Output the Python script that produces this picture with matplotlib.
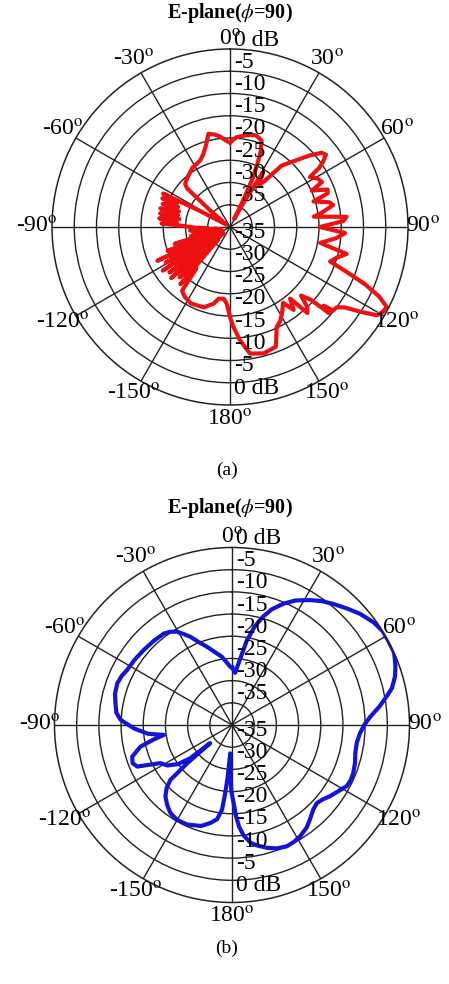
import numpy as np
import matplotlib.pyplot as plt
from matplotlib.transforms import offset_copy

plt.rcParams['font.family'] = ['Liberation Serif', 'DejaVu Serif']
plt.rcParams['mathtext.fontset'] = 'stix'

# angles in degrees, clockwise from the top; gain in dB
red_deg = [0, 4, 8, 12, 16, 20, 22, 23.5, 25, 26.5, 27.5, 29, 31, 33, 35, 37, 40, 44, 48, 51,
           53, 55, 56.5, 58, 61, 64, 66, 69, 71, 73, 76, 78, 81, 83, 85, 87, 90, 93, 96, 100,
           103, 106, 109, 111, 113, 115, 117, 119, 121, 123, 125, 127, 129, 130, 131, 132, 134,
           136, 138, 140, 142.5, 145, 149, 152, 155, 159, 165, 171, 175, 178, 180, 182.5, 185,
           189, 192, 198, 207, 213, 217, 219, 221, 223, 225, 227, 229, 231, 233, 235, 237, 239,
           241, 243, 245, 247, 249, 251, 253, 255, 257, 259, 261, 263, 265, 267, 269, 271, 273,
           275, 277, 279, 281, 283, 285, 287, 289, 291, 293, 295, 296.6, 298, 300, 303, 307, 310,
           312, 314, 318, 327, 336, 340, 343, 347, 351, 354, 357, 360]
red_db = [-21, -19.8, -19.3, -18.8, -18.6, -19.3, -21.5, -24.5, -28, -34, -38, -34, -25.6, -27.5,
          -28.5, -27, -22, -19.5, -16, -13.5, -13, -14.5, -16, -18.8, -17.5, -17, -19.9, -16.5,
          -16.8, -20.4, -17, -16.3, -19, -21, -13.7, -14.5, -19.8, -14.1, -16, -19.4, -13.1, -15,
          -16.2, -12, -7, -3, -0.5, -0.7, -1.5, -5, -8.5, -10, -10.2, -12.5, -10.5, -15.6, -17.8,
          -15, -14, -19, -16.5, -19.2, -17.3, -16, -15.2, -11.2, -10.6, -11.2, -14.5, -17.5,
          -19.8, -22.8, -23.8, -23.7, -22.4, -21, -20.7, -21.3, -22.1, -28, -23, -36, -24, -38,
          -22.5, -35, -23, -37, -22, -33, -23.5, -38, -22, -34, -25, -36, -27, -38, -31, -36,
          -32, -37, -31, -35, -32, -30, -24.6, -28, -24, -28.5, -24, -28, -23.8, -28, -24, -27.5,
          -23.5, -27, -23.2, -32, -38, -39, -38, -34, -27, -26, -25.5, -24.3, -23.6, -22.5,
          -21.2, -18.5, -19, -19.6, -20.5, -21]

blue_deg = [0, 2, 3.5, 5, 7, 10, 13, 16, 19, 23, 27, 32, 36, 40, 45, 49, 54, 58, 62, 66, 70,
            73.5, 77, 79.6, 83, 86.6, 90, 93.7, 98, 102.9, 107, 111.7, 115, 118, 122, 126, 129.5,
            132.7, 136, 140.5, 144, 148.5, 152, 155.7, 160, 164, 168, 171, 174, 176, 177.5,
            178.8, 180.5, 182, 183.5, 184.8, 185.7, 186.7, 189, 192.4, 197, 204.2, 210, 215,
            219, 223, 226, 228.3, 229.5, 230.3, 231.5, 234, 238, 242, 246.3, 249, 252.4, 256.7,
            259.5, 261.7, 264, 268, 272.6, 276, 280.5, 285, 290, 294, 297.6, 304, 310.3, 317,
            323.3, 326.5, 329.5, 332, 334.7, 338, 342.3, 347, 351.7, 355, 358.4, 360]
blue_db = [-27, -27.8, -28.2, -27, -25, -20.6, -17.2, -14.6, -12.4, -10.3, -8.5, -6.8, -5.5,
           -4.4, -3, -1.8, -0.6, 0, 0, 0, -0.8, -1.7, -3, -4.6, -6.6, -8.8, -10.2, -11.1, -11.6,
           -11.5, -11, -10.6, -10.5, -10.7, -11.8, -12.7, -13.6, -14, -13.6, -12.4, -11.4, -10.6,
           -10.2, -10, -10.4, -11.2, -12.2, -13.1, -15, -17, -19.5, -22.4, -25, -28.5, -33.6,
           -28, -24.5, -20.8, -18.5, -17.4, -16.2, -15.4, -15.3, -15.8, -16.8, -18, -19.5,
           -21.4, -26.7, -33.6, -28, -25, -22.8, -21.7, -16.7, -16, -16.4, -18.8, -22, -24.5,
           -21, -17.9, -14.9, -13.8, -13.3, -12.7, -12.5, -12.8, -13.3, -13.6, -13.9, -14.1,
           -14.3, -14.8, -15.6, -16.8, -18, -19.8, -21.5, -23.2, -24.5, -25.8, -26.9, -27]

ring_db = [-35, -30, -25, -20, -15, -10, -5]
scale_db = [0, -5, -10, -15, -20, -25, -30, -35]
angle_ticks = [0, 30, 60, 90, 120, 150, 180, 210, 240, 270, 300, 330]
angle_names = ['0', '30', '60', '90', '120', '150', '180', '-150', '-120', '-90', '-60', '-30']

W, H = 449, 984
fig = plt.figure(figsize=(W / 100, H / 100), dpi=100)


def polar_panel(cx, cy, rad, deg, db, color, title_y, tag, tag_y):
  ax = fig.add_axes([(cx - rad) / W, (H - cy - rad) / H, 2 * rad / W, 2 * rad / H],
                    projection='polar')
  ax.set_theta_zero_location('N')
  ax.set_theta_direction(-1)
  ax.set_ylim(-40, 0)
  ax.set_yticks(ring_db)
  ax.set_xticks(np.radians(angle_ticks))
  ax.set_xticklabels([])
  ax.set_yticklabels([])
  ax.grid(True, color='#222222', lw=1.0)
  ax.spines['polar'].set_color('#222222')
  ax.spines['polar'].set_linewidth(1.1)
  ax.plot(np.radians(deg), db, color=color, lw=3.0, solid_joinstyle='round')

  top = offset_copy(ax.transData, fig, x=4, y=9, units='dots')
  bot = offset_copy(ax.transData, fig, x=4, y=17, units='dots')
  for v in scale_db:
    txt = '0 dB' if v == 0 else str(v)
    ax.text(0, v, txt, transform=top, ha='left', va='center', fontsize=17)
    ax.text(np.pi, v, txt, transform=bot, ha='left', va='center', fontsize=17)

  for a, name in zip(angle_ticks, angle_names):
    r = 2.0 if a == 0 else 3.4
    ax.text(np.radians(a), r, name + r'$^{\rm o}$', ha='center', va='center',
            fontsize=17, clip_on=False)

  fig.text(230 / W, 1 - title_y / H, r'E-plane($\phi$=90)', ha='center', va='center',
           fontsize=14.5, fontweight='bold')
  fig.text(227 / W, 1 - tag_y / H, tag, ha='center', va='center', fontsize=14)


polar_panel(230, 227, 178, red_deg, red_db, '#ee1111', 13, '(a)', 470)
polar_panel(232, 725, 177.5, blue_deg, blue_db, '#1414d8', 508, '(b)', 948)

fig.savefig('out.png', dpi=100)
